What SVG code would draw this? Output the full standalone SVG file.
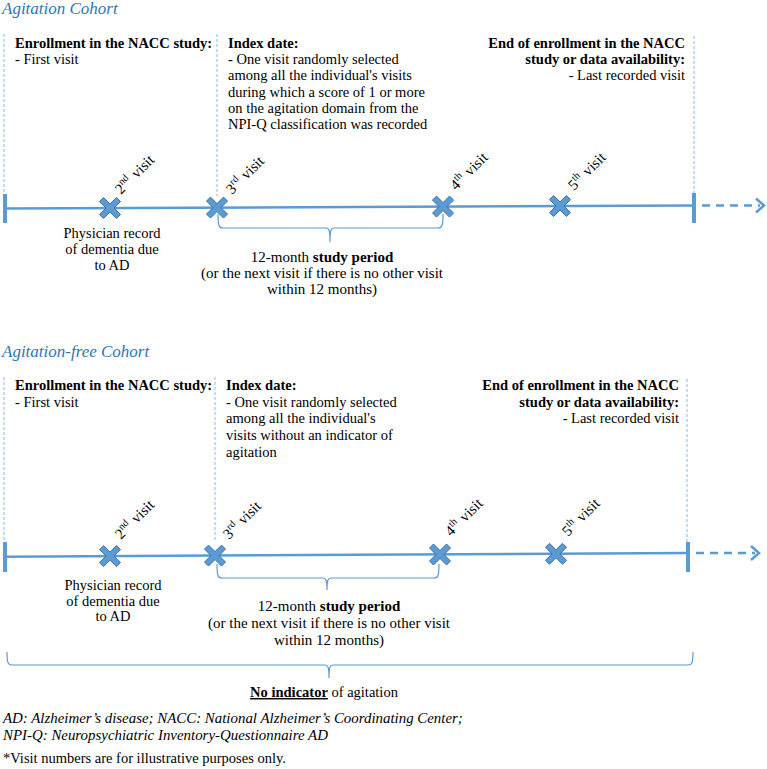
<svg xmlns="http://www.w3.org/2000/svg" width="767" height="769" viewBox="0 0 767 769" font-family="'Liberation Serif','Times New Roman',serif">
<style>
text{font-family:"Liberation Serif","Times New Roman",serif;font-size:14.5px;fill:#000}
.title{font-style:italic;font-size:17px;fill:#2E75B6}
.b{font-weight:bold}
.it{font-style:italic;font-size:14.9px}
.mid{text-anchor:middle}
.end{text-anchor:end}
.per{font-size:15px}
.vis{font-size:15px}
.sup{font-size:10px}
.guide{stroke:#8DB8E2;stroke-width:1;stroke-dasharray:3,2;fill:none}
.tl{stroke:#5B9BD5;stroke-width:2.5;fill:none}
.bar{stroke:#5B9BD5;stroke-width:4;fill:none}
.dash{stroke:#5B9BD5;stroke-width:2.5;stroke-dasharray:8,6;fill:none}
.head{stroke:#5B9BD5;stroke-width:2.5;fill:none;stroke-linejoin:miter}
.brace{stroke:#5B9BD5;stroke-width:1.2;fill:none}
.xm{fill:#5B9BD5;stroke:#41719C;stroke-width:1}
</style>
<defs>
<path id="xmark" d="M-10.5,-6.5 L-6.5,-10.5 L0,-4 L6.5,-10.5 L10.5,-6.5 L4,0 L10.5,6.5 L6.5,10.5 L0,4 L-6.5,10.5 L-10.5,6.5 L-4,0 Z"/>
</defs>

<text class="title" x="2" y="14">Agitation Cohort</text>
<text class="title" x="2" y="357">Agitation-free Cohort</text>

<g id="connectors">
<line class="guide" x1="4" y1="34" x2="4" y2="192"/>
<line class="guide" x1="217" y1="34" x2="217" y2="196"/>
<line class="guide" x1="694" y1="36" x2="694" y2="193"/>
<line class="tl" x1="4" y1="208.5" x2="694" y2="205.5"/>
<line class="bar" x1="5" y1="194" x2="5" y2="223"/>
<line class="bar" x1="694" y1="193" x2="694" y2="223"/>
<line class="dash" x1="702" y1="205.5" x2="760" y2="205.5"/>
<path class="head" d="M756,198.5 L764,205.5 L756,212.5"/>
<path class="brace" d="M218,214 C218,226 219,228 223,228 L326,228 C329,228 330,230 330,242 C330,230 331,228 334,228 L438,228 C442,228 443,226 443,214"/>

<line class="guide" x1="4" y1="377" x2="4" y2="540"/>
<line class="guide" x1="215" y1="377" x2="215" y2="542"/>
<line class="guide" x1="687" y1="379" x2="687" y2="542"/>
<line class="tl" x1="4" y1="556.7" x2="688" y2="553"/>
<line class="bar" x1="5" y1="542" x2="5" y2="572"/>
<line class="bar" x1="688" y1="542" x2="688" y2="572"/>
<line class="dash" x1="696" y1="553" x2="755" y2="553"/>
<path class="head" d="M751,546 L759,553 L751,560"/>
<path class="brace" d="M217,564 C217,576 218,578 222,578 L323,578 C326,578 327,580 327,590 C327,580 328,578 331,578 L434,578 C438,578 439,576 439,564"/>

<path class="brace" d="M7,652 C7,663 8,665 12,665 L325,665 C328,665 329,667 329,678 C329,667 330,665 333,665 L688,665 C692,665 693,663 693,652"/>
</g>

<g id="enroll1">
<text class="b" x="15" y="48">Enrollment in the NACC study:</text>
<text x="15" y="64">- First visit</text>
</g>
<g id="index1">
<text class="b" x="228" y="48">Index date:</text>
<text x="228" y="64"><tspan class="b">-</tspan> One visit randomly selected</text>
<text x="228" y="80">among all the individual's visits</text>
<text x="228" y="96.5">during which a score of 1 or more</text>
<text x="228" y="112.5">on the agitation domain from the</text>
<text x="228" y="128.5">NPI-Q classification was recorded</text>
</g>
<g id="end1">
<text class="b end" x="685" y="48">End of enrollment in the NACC</text>
<text class="b end" x="685" y="64">study or data availability:</text>
<text class="end" x="685" y="80">- Last recorded visit</text>
</g>

<g id="visit1-2"><use href="#xmark" class="xm" x="110" y="208"/>
<text class="vis" transform="translate(121,195) rotate(-45)">2<tspan class="sup" dy="-6">nd</tspan><tspan dx="5" dy="6">visit</tspan></text></g>
<g id="visit1-3"><use href="#xmark" class="xm" x="217" y="207.6"/>
<text class="vis" transform="translate(232,195) rotate(-45)">3<tspan class="sup" dy="-6">rd</tspan><tspan dx="5" dy="6">visit</tspan></text></g>
<g id="visit1-4"><use href="#xmark" class="xm" x="443" y="206.6"/>
<text class="vis" transform="translate(456,191) rotate(-45)">4<tspan class="sup" dy="-6">th</tspan><tspan dx="5" dy="6">visit</tspan></text></g>
<g id="visit1-5"><use href="#xmark" class="xm" x="560" y="206"/>
<text class="vis" transform="translate(574,191) rotate(-45)">5<tspan class="sup" dy="-6">th</tspan><tspan dx="5" dy="6">visit</tspan></text></g>

<g id="physician1">
<text class="mid" x="112" y="237.5">Physician record</text>
<text class="mid" x="112" y="254">of dementia due</text>
<text class="mid" x="112" y="270">to AD</text>
</g>
<g id="period1">
<text class="mid per" x="322" y="262">12-month <tspan class="b">study period</tspan></text>
<text class="mid per" x="322" y="278">(or the next visit if there is no other visit</text>
<text class="mid per" x="322" y="294">within 12 months)</text>
</g>

<g id="enroll2">
<text class="b" x="15" y="390">Enrollment in the NACC study:</text>
<text x="15" y="406.5">- First visit</text>
</g>
<g id="index2">
<text class="b" x="226" y="390">Index date:</text>
<text x="226" y="406.5">- One visit randomly selected</text>
<text x="226" y="423">among all the individual's</text>
<text x="226" y="440">visits without an indicator of</text>
<text x="226" y="456.5">agitation</text>
</g>
<g id="end2">
<text class="b end" x="679" y="390">End of enrollment in the NACC</text>
<text class="b end" x="679" y="406.5">study or data availability:</text>
<text class="end" x="679" y="423">- Last recorded visit</text>
</g>

<g id="visit2-2"><use href="#xmark" class="xm" x="110" y="556.1"/>
<text class="vis" transform="translate(121,540) rotate(-45)">2<tspan class="sup" dy="-6">nd</tspan><tspan dx="5" dy="6">visit</tspan></text></g>
<g id="visit2-3"><use href="#xmark" class="xm" x="215" y="555.6"/>
<text class="vis" transform="translate(229,540) rotate(-45)">3<tspan class="sup" dy="-6">rd</tspan><tspan dx="5" dy="6">visit</tspan></text></g>
<g id="visit2-4"><use href="#xmark" class="xm" x="440" y="554.5"/>
<text class="vis" transform="translate(451,537) rotate(-45)">4<tspan class="sup" dy="-6">th</tspan><tspan dx="5" dy="6">visit</tspan></text></g>
<g id="visit2-5"><use href="#xmark" class="xm" x="556" y="553.8"/>
<text class="vis" transform="translate(568,537) rotate(-45)">5<tspan class="sup" dy="-6">th</tspan><tspan dx="5" dy="6">visit</tspan></text></g>

<g id="physician2">
<text class="mid" x="113" y="589.5">Physician record</text>
<text class="mid" x="113" y="605.5">of dementia due</text>
<text class="mid" x="113" y="621">to AD</text>
</g>
<g id="period2">
<text class="mid per" x="329" y="611">12-month <tspan class="b">study period</tspan></text>
<text class="mid per" x="329" y="628">(or the next visit if there is no other visit</text>
<text class="mid per" x="329" y="645">within 12 months)</text>
</g>

<g id="noindicator">
<text class="mid" x="324" y="697"><tspan class="b" text-decoration="underline">No indicator</tspan> of agitation</text>
</g>
<g id="footnotes">
<text class="it" x="3" y="723">AD: Alzheimer’s disease; NACC: National Alzheimer’s Coordinating Center;</text>
<text class="it" x="3" y="740">NPI-Q: Neuropsychiatric Inventory-Questionnaire AD</text>
<text x="3" y="763">*Visit numbers are for illustrative purposes only.</text>
</g>
</svg>
